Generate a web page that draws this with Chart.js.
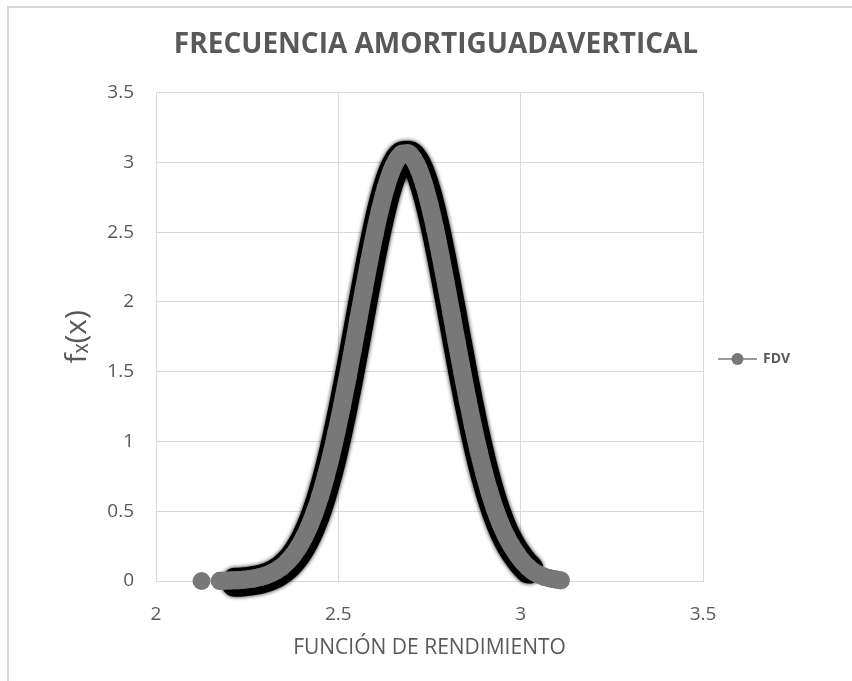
<!DOCTYPE html>
<html lang="es">
  <head>
    <meta charset="utf-8">
    <script src="https://cdn.jsdelivr.net/npm/chart.js@4.4.1/dist/chart.umd.min.js"></script>
    <title>Frecuencia amortiguada vertical</title>
    <style>
      body { margin: 0; background: #fff; }
    </style>
  </head>
  <body>
    <canvas id="myChart" width="852" height="681"></canvas>
    <script type="text/javascript">
      // valores
      const xValues = [2.125, 2.175, 2.185, 2.195, 2.205, 2.215, 2.225, 2.24, 2.255, 2.27, 2.285, 2.30, 2.315, 2.33, 2.345, 2.36, 2.375, 2.39, 2.405, 2.42, 2.435, 2.45, 2.465, 2.48, 2.495, 2.51, 2.525, 2.54, 2.555, 2.57, 2.585, 2.60, 2.615, 2.63, 2.645, 2.66, 2.675, 2.69, 2.705, 2.72, 2.735, 2.75, 2.765, 2.78, 2.795, 2.81, 2.825, 2.84, 2.855, 2.87, 2.885, 2.90, 2.915, 2.93, 2.945, 2.96, 2.975, 2.99, 3.005, 3.02, 3.035, 3.05, 3.065, 3.08, 3.09, 3.10, 3.11];
      const fdvValues = [0.000, 0.001, 0.002, 0.003, 0.004, 0.005, 0.006, 0.009, 0.013, 0.019, 0.028, 0.039, 0.055, 0.075, 0.102, 0.138, 0.182, 0.238, 0.307, 0.390, 0.490, 0.607, 0.743, 0.896, 1.067, 1.253, 1.453, 1.662, 1.876, 2.089, 2.297, 2.491, 2.666, 2.816, 2.934, 3.017, 3.062, 3.066, 3.029, 2.954, 2.842, 2.698, 2.528, 2.337, 2.131, 1.919, 1.704, 1.494, 1.292, 1.103, 0.929, 0.772, 0.633, 0.512, 0.409, 0.322, 0.251, 0.192, 0.140, 0.100, 0.068, 0.045, 0.030, 0.020, 0.014, 0.009, 0.005];
      const xTicks = [2, 2.5, 3, 3.5];
      const yTicks = [0, 0.5, 1, 1.5, 2, 2.5, 3, 3.5];
      const seriesName = 'FDV';

      const points = xValues.map((x, i) => ({x: x, y: fdvValues[i]}));
      // the dark edge only shows where the points are packed together
      const edgePoints = points.filter(p => p.x >= 2.21 && p.x <= 3.02);

      const grey = '#787878';
      const textGrey = '#595959';
      const gridGrey = '#d9d9d9';

      Chart.defaults.font.family = "'Open Sans', sans-serif";
      Chart.defaults.color = textGrey;

      const shadowPlugin = {
        id: 'shadow',
        beforeDatasetDraw(chart, args) {
          if (args.index !== 0) return;
          const ctx = chart.ctx;
          ctx.save();
          ctx.translate(1, 2);
          ctx.shadowColor = 'rgba(0,0,0,0.9)';
          ctx.shadowBlur = 4;
        },
        afterDatasetDraw(chart, args) {
          if (args.index !== 0) return;
          chart.ctx.restore();
        }
      };

      const framePlugin = {
        id: 'frame',
        beforeDraw(chart) {
          const ctx = chart.ctx;
          ctx.save();
          ctx.strokeStyle = gridGrey;
          ctx.lineWidth = 2;
          ctx.strokeRect(8, 7, 1000, 1000);
          ctx.restore();
        },
        afterDraw(chart) {
          // legend: line with marker
          const ctx = chart.ctx;
          const y = 359;
          ctx.save();
          ctx.strokeStyle = grey;
          ctx.lineWidth = 1.5;
          ctx.beginPath();
          ctx.moveTo(718, y);
          ctx.lineTo(757, y);
          ctx.stroke();
          ctx.fillStyle = grey;
          ctx.beginPath();
          ctx.arc(737.5, y, 6, 0, Math.PI * 2);
          ctx.fill();
          ctx.fillStyle = textGrey;
          ctx.font = "bold 14px 'Open Sans', sans-serif";
          ctx.textBaseline = 'middle';
          ctx.fillText(seriesName, 763, y);
          ctx.restore();
        }
      };

      var ctx = document.getElementById('myChart').getContext('2d');
      var myChart = new Chart(ctx, {
        type: 'scatter',
        plugins: [shadowPlugin, framePlugin],
        data: {
          datasets: [{
            label: seriesName + ' borde',
            data: edgePoints,
            showLine: true,
            clip: false,
            borderColor: '#000',
            borderWidth: 29,
            borderCapStyle: 'round',
            borderJoinStyle: 'round',
            cubicInterpolationMode: 'monotone',
            pointRadius: 0,
            order: 2
          }, {
            label: seriesName,
            data: points,
            showLine: true,
            clip: false,
            borderColor: grey,
            borderWidth: 18,
            borderCapStyle: 'round',
            borderJoinStyle: 'round',
            cubicInterpolationMode: 'monotone',
            segment: {
              borderColor: c => (c.p1.parsed.x - c.p0.parsed.x > 0.03) ? 'transparent' : grey
            },
            pointRadius: 9,
            pointBorderWidth: 0,
            pointBackgroundColor: grey,
            order: 1
          }]
        },
        options: {
          responsive: false,
          animation: false,
          layout: {
            padding: {left: 20, right: 0, top: 0, bottom: 0}
          },
          plugins: {
            legend: { display: false },
            tooltip: { enabled: false },
            title: {
              display: true,
              text: 'FRECUENCIA AMORTIGUADAVERTICAL',
              color: textGrey,
              font: { size: 28, weight: 'bold' },
              padding: { top: 28, bottom: 31 }
            }
          },
          scales: {
            x: {
              type: 'linear',
              min: xTicks[0],
              max: xTicks[xTicks.length - 1],
              afterBuildTicks: s => { s.ticks = xTicks.map(v => ({value: v})); },
              afterFit: s => { s.height = 100; },
              grid: { color: gridGrey, drawTicks: false },
              border: { color: gridGrey },
              ticks: { font: { size: 19 }, padding: 22, color: textGrey, callback: v => String(v) },
              title: {
                display: true,
                text: 'FUNCIÓN DE RENDIMIENTO',
                color: textGrey,
                font: { size: 21 },
                padding: { top: 0, bottom: 20 }
              }
            },
            y: {
              min: yTicks[0],
              max: yTicks[yTicks.length - 1],
              afterBuildTicks: s => { s.ticks = yTicks.map(v => ({value: v})); },
              afterFit: s => { s.width = 136; },
              grid: { color: gridGrey, drawTicks: false },
              border: { color: gridGrey },
              ticks: { font: { size: 19 }, padding: 22, color: textGrey, callback: v => String(v) },
              title: {
                display: true,
                text: 'fₓ(x)',
                color: textGrey,
                font: { size: 30 },
                padding: { top: 39, bottom: 0 }
              }
            },
            y2: {
              position: 'right',
              display: true,
              afterFit: s => { s.width = 149; },
              grid: { display: false },
              border: { display: false },
              ticks: { display: false }
            }
          }
        }
      });
    </script>
  </body>
</html>
